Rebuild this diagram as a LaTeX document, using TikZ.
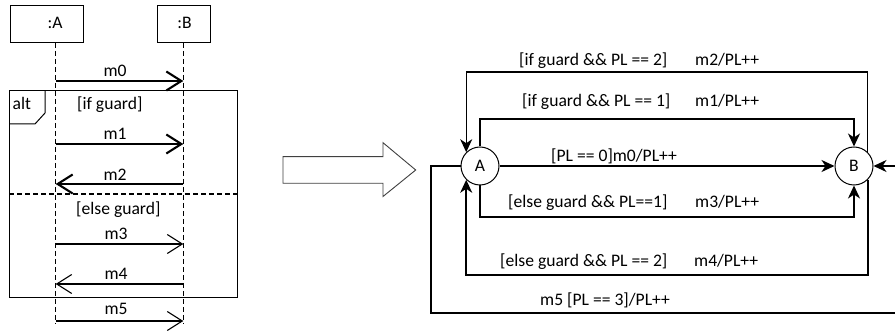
\documentclass[tikz,border=0pt]{standalone}
\usepackage{fontspec}
\setmainfont{Carlito}
\usetikzlibrary{arrows.meta}
\begin{document}
\begin{tikzpicture}[x=1pt,y=-1pt,
  txt/.style={font=\fontsize{17.6}{20}\selectfont, inner sep=0pt, anchor=base west},
  ctxt/.style={font=\fontsize{17.6}{20}\selectfont, inner sep=0pt, anchor=base},
  objbox/.style={draw, line width=1pt, inner sep=0pt},
  lifeline/.style={line width=1.2pt, dash pattern=on 5pt off 3pt},
  msgthick/.style={line width=2.1pt, -{Straight Barb[length=15pt,width=19pt]}},
  msgthin/.style={line width=1.1pt, -{Straight Barb[length=15pt,width=19pt]}},
  circ/.style={circle, draw, fill=white, line width=1pt, minimum size=38pt, inner sep=0pt, font=\fontsize{17.6}{20}\selectfont},
  conn/.style={line width=1.7pt, -{Stealth[length=13pt,width=12pt,inset=4pt]}},
  connthin/.style={line width=1.2pt, -{Stealth[length=13pt,width=12pt,inset=4pt]}},
]
\clip (0,0) rectangle (895,331);
\fill[white] (0,0) rectangle (895,331);

% ---------- sequence diagram ----------
\node[objbox, minimum width=73pt, minimum height=37pt] (oA) at (46.5,24.5) {};
\node[ctxt] (oAt) at (55,29) {:A};
\node[objbox, minimum width=53pt, minimum height=37pt] (oB) at (183.5,24.5) {};
\node[ctxt] (oBt) at (184.5,29) {:B};

\coordinate (la) at (55.7,43);
\coordinate (laend) at (55.7,324);
\coordinate (lb) at (183.3,43);
\coordinate (lbend) at (183.3,324);
\draw[lifeline] (la) -- (laend);
\draw[lifeline] (lb) -- (lbend);

% alt frame
\coordinate (altnw) at (9,91);
\coordinate (altse) at (237,298);
\draw[line width=1pt] (altnw) rectangle (altse);
\draw[line width=1pt] (45,91) -- (45,113) -- (35,124) -- (9,124);
\node[txt] (altt) at (12.5,110) {alt};
\coordinate (sepl) at (9,194);
\coordinate (sepr) at (237,194);
\draw[line width=1.5pt, dash pattern=on 5pt off 3pt] (sepl) -- (sepr);
\node[txt] (g1) at (77,110) {[if guard]};
\node[txt] (g2) at (76,215) {[else guard]};

% messages
\coordinate (m0a) at (55.7,81);  \coordinate (m0b) at (183.3,81);
\coordinate (m1a) at (55.7,144); \coordinate (m1b) at (183.3,144);
\coordinate (m2a) at (183.3,184);\coordinate (m2b) at (55.7,184);
\coordinate (m3a) at (55.7,244); \coordinate (m3b) at (183.3,244);
\coordinate (m4a) at (183.3,284);\coordinate (m4b) at (55.7,284);
\coordinate (m5a) at (55.7,321); \coordinate (m5b) at (183.3,321);
\draw[msgthick] (m0a) -- (m0b);
\draw[msgthick] (m1a) -- (m1b);
\draw[msgthick] (m2a) -- (m2b);
\draw[msgthin] (m3a) -- (m3b);
\draw[msgthin] (m4a) -- (m4b);
\draw[msgthin] (m5a) -- (m5b);
\node[ctxt] (m0t) at (115,77) {m0};
\node[ctxt] (m1t) at (115,140) {m1};
\node[ctxt] (m2t) at (115,181) {m2};
\node[ctxt] (m3t) at (116,240) {m3};
\node[ctxt] (m4t) at (116,280) {m4};
\node[ctxt] (m5t) at (116,315) {m5};

% ---------- big hollow arrow ----------
\draw[line width=0.9pt, draw=black!75, fill=white]
  (283,156.7) -- (383,156.7) -- (383,142.7) -- (415.7,170) -- (383,196.5) -- (383,183.3) -- (283,183.3) -- cycle;

% ---------- state machine ----------
\node[circ] (A) at (480,166) {A};
\node[circ] (B) at (854,166) {B};

\coordinate (c1) at (660,119);
\coordinate (c2) at (660,72);
\coordinate (c3) at (660,217);
\coordinate (c4) at (660,275);
\coordinate (c5a) at (431,313);
\coordinate (c5b) at (910,313);

\draw[conn] (A) -- (B);
\draw[conn] (A.north) |- (c1) -| (B.north);
\draw[connthin] (B.45) |- (c2) -| (A.135);
\draw[conn] (A.south) |- (c3) -| (B.south);
\draw[conn] (B.-45) |- (c4) -| (A.-135);
\draw[conn] (A.west) -| (c5a) -- (c5b) |- (B.east);

\node[txt] (l2a) at (519,66) {[if guard \&\& PL == 2]};
\node[txt] (l2b) at (695,66) {m2/PL++};
\node[txt] (l1a) at (522,107) {[if guard \&\& PL == 1]};
\node[txt] (l1b) at (695,107) {m1/PL++};
\node[txt] (l0) at (551,162) {[PL == 0]m0/PL++};
\node[txt] (l3a) at (508,208) {[else guard \&\& PL==1]};
\node[txt] (l3b) at (695,208) {m3/PL++};
\node[txt] (l4a) at (500,267) {[else guard \&\& PL == 2]};
\node[txt] (l4b) at (694,267) {m4/PL++};
\node[txt] (l5) at (540,306) {m5 [PL == 3]/PL++};
\end{tikzpicture}
\end{document}
